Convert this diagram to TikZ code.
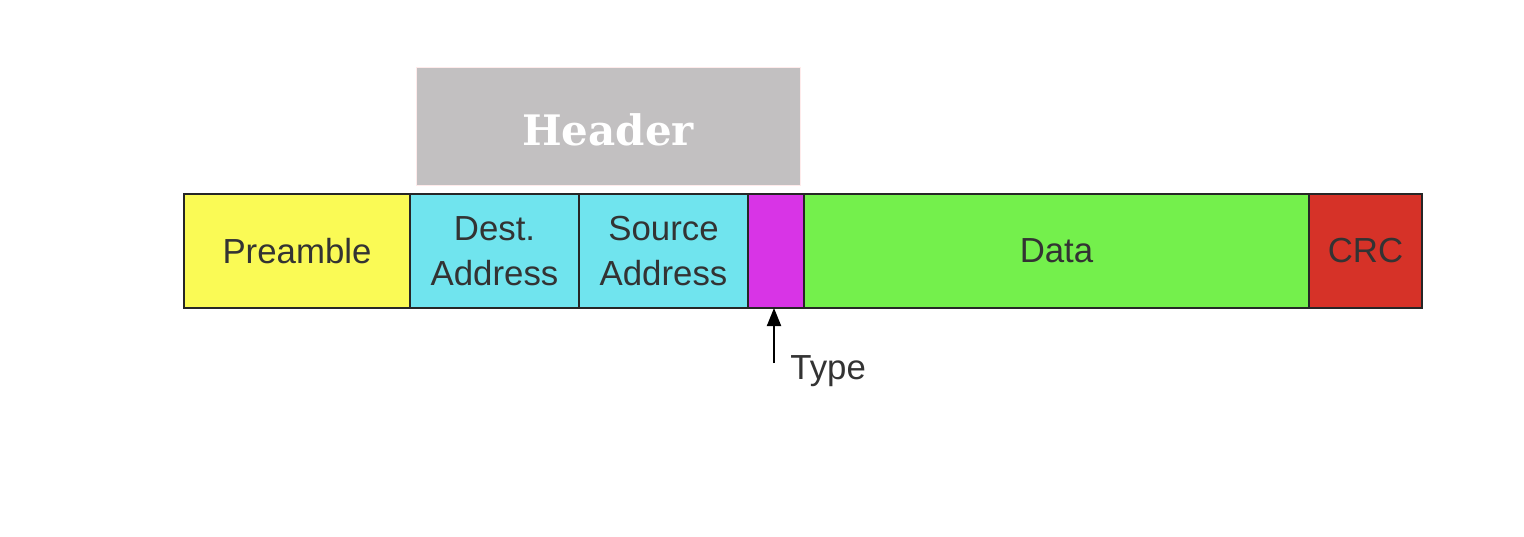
\documentclass[tikz,border=0pt]{standalone}
\usepackage{fontspec}
\setmainfont{Liberation Sans}
\newfontfamily\hdrfont{DejaVu Serif}
\usepackage{tikz}
\usetikzlibrary{positioning, arrows.meta}
\definecolor{preyellow}{RGB}{250,250,85}
\definecolor{addrcyan}{RGB}{112,228,238}
\definecolor{typemag}{RGB}{216,52,230}
\definecolor{datagreen}{RGB}{116,240,76}
\definecolor{crcred}{RGB}{214,50,40}
\definecolor{hdrgray}{RGB}{194,192,193}
\tikzset{
    field/.style={draw=black!85, line width=1pt, outer sep=0pt, minimum height=57pt,
        inner sep=0pt, align=center, font=\fontsize{17.4}{22.5}\selectfont, text=black!80},
}

\begin{document}
\begin{tikzpicture}[>={Triangle[width=7pt,length=9pt]}]
    \useasboundingbox (0,0) rectangle (762pt,-268pt);
    \node[field, fill=hdrgray, draw=red!8, line width=0.5pt, minimum width=192pt, minimum height=59pt,
        anchor=north west, font=\hdrfont\bfseries\fontsize{21}{24}\selectfont, text=white]
        (hdr) at (208pt,-33.5pt) {};
    \node[text=white, font=\hdrfont\bfseries\fontsize{21}{24}\selectfont, inner sep=0pt]
        (hdrlab) at ([yshift=-2pt]hdr.center) {Header};
    \node[field, fill=preyellow, minimum width=113pt, anchor=north west] (pre) at (92pt,-97pt) {Preamble};
    \node[field, fill=addrcyan, minimum width=84.5pt, right=0pt of pre] (dst) {Dest.\\Address};
    \node[field, fill=addrcyan, minimum width=84.5pt, right=0pt of dst] (src) {Source\\Address};
    \node[field, fill=typemag, minimum width=28pt, right=0pt of src] (typ) {};
    \node[field, fill=datagreen, minimum width=252.5pt, right=0pt of typ] (dat) {Data};
    \node[field, fill=crcred, minimum width=56.5pt, right=0pt of dat] (crc) {CRC};
    % type marker
    \coordinate (tip) at ([xshift=-1pt]typ.south);
    \coordinate (tail) at ([yshift=-27.5pt]tip);
    \draw[->, line width=1pt] (tail) -- (tip);
    \node[anchor=west, inner sep=0pt, font=\fontsize{17.4}{22.5}\selectfont, text=black!80]
        (typlab) at ([xshift=8pt,yshift=-4pt]tail) {Type};
\end{tikzpicture}
\end{document}
